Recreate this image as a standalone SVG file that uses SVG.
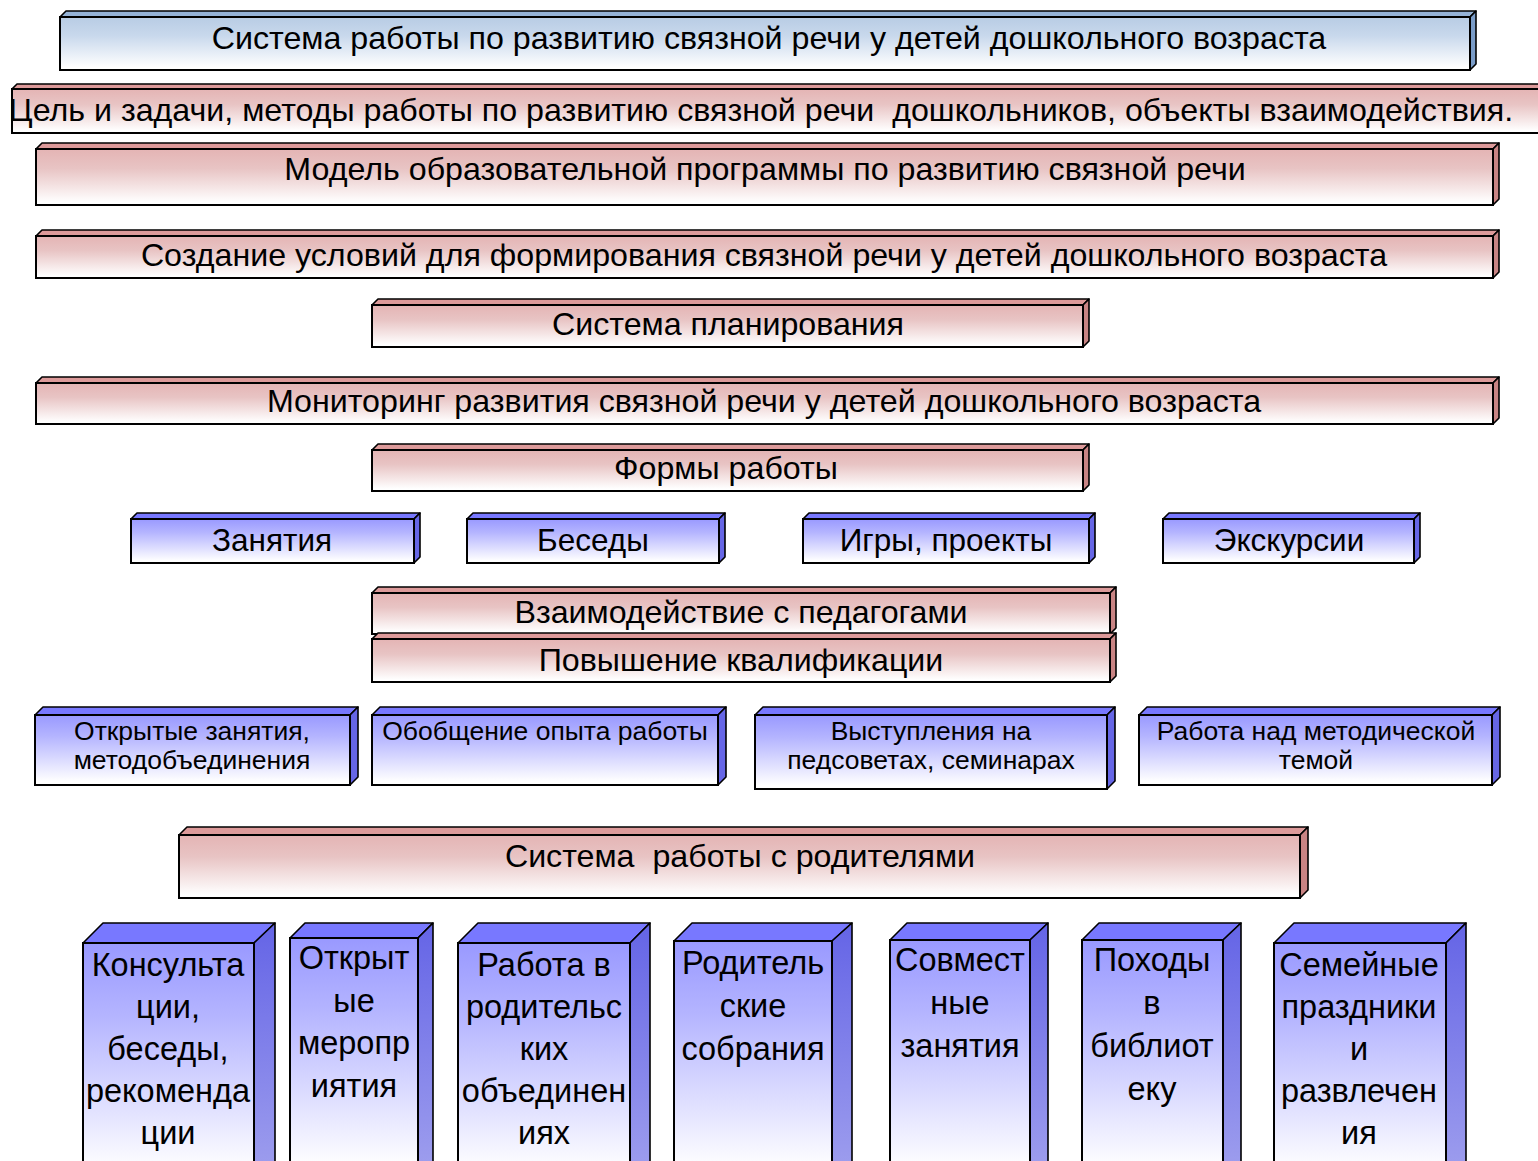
<svg xmlns="http://www.w3.org/2000/svg" width="1538" height="1161" viewBox="0 0 1538 1161">
<defs>
<linearGradient id="gP" x1="0" y1="0" x2="0" y2="1"><stop offset="0" stop-color="#e4b4b4"/><stop offset="0.35" stop-color="#e8c4c4"/><stop offset="0.95" stop-color="#ffffff"/></linearGradient>
<linearGradient id="gB" x1="0" y1="0" x2="0" y2="1"><stop offset="0" stop-color="#9999ff"/><stop offset="0.3" stop-color="#b4b4ff"/><stop offset="0.95" stop-color="#ffffff"/></linearGradient>
<linearGradient id="gL" x1="0" y1="0" x2="0" y2="1"><stop offset="0" stop-color="#b8cce4"/><stop offset="0.35" stop-color="#c8d8ec"/><stop offset="0.95" stop-color="#ffffff"/></linearGradient>
<linearGradient id="gBS" x1="0" y1="0" x2="0" y2="1"><stop offset="0" stop-color="#6464e6"/><stop offset="1" stop-color="#a0a0ee"/></linearGradient>
</defs>
<style>
.f{stroke:#000;stroke-width:2}
.s{stroke:#000;stroke-width:1.6;stroke-linejoin:round}
.p .f{fill:url(#gP)} .p .t{fill:#dd9a9a} .p .r{fill:#c98484}
.b .f{fill:url(#gB)} .b .t{fill:#7878ff} .b .r{fill:#6666e6}
.bt .f{fill:url(#gB)} .bt .t{fill:#7878ff} .bt .r{fill:url(#gBS)}
.l .f{fill:url(#gL)} .l .t{fill:#95b3d7} .l .r{fill:#7a9cc8}
text{font-family:"Liberation Sans",Arial,sans-serif;fill:#000;text-anchor:middle}
.x30{font-size:32.2px}
.x31s{font-size:31.5px}
.x25{font-size:26.5px}
.x31{font-size:32.5px}
</style>
<g id="connectors"></g>

<g id="n1" class="l">
<polygon class="t s" points="60,17 66,11 1476,11 1470,17"/><polygon class="r s" points="1470,17 1476,11 1476,64 1470,70"/><rect class="f" x="60" y="17" width="1410" height="53"/>
<text class="x30" x="769" y="49">Система работы по развитию связной речи у детей дошкольного возраста</text></g>

<g id="n2" class="p">
<polygon class="t s" points="12,89 17,84 1547,84 1542,89"/><rect class="f" x="12" y="89" width="1530" height="44"/>
<text class="x30" x="761" y="121" xml:space="preserve">Цель и задачи, методы работы по развитию связной речи  дошкольников, объекты взаимодействия.</text></g>

<g id="n3" class="p">
<polygon class="t s" points="36,149 42,143 1499,143 1493,149"/><polygon class="r s" points="1493,149 1499,143 1499,199 1493,205"/><rect class="f" x="36" y="149" width="1457" height="56"/>
<text class="x30" x="765" y="180">Модель образовательной программы по развитию связной речи</text></g>

<g id="n4" class="p">
<polygon class="t s" points="36,236 42,230 1499,230 1493,236"/><polygon class="r s" points="1493,236 1499,230 1499,272 1493,278"/><rect class="f" x="36" y="236" width="1457" height="42"/>
<text class="x30" x="764" y="266">Создание условий для формирования связной речи у детей дошкольного возраста</text></g>

<g id="n5" class="p">
<polygon class="t s" points="372,305 378,299 1089,299 1083,305"/><polygon class="r s" points="1083,305 1089,299 1089,341 1083,347"/><rect class="f" x="372" y="305" width="711" height="42"/>
<text class="x30" x="728" y="335">Система планирования</text></g>

<g id="n6" class="p">
<polygon class="t s" points="36,383 42,377 1499,377 1493,383"/><polygon class="r s" points="1493,383 1499,377 1499,418 1493,424"/><rect class="f" x="36" y="383" width="1457" height="41"/>
<text class="x30" x="764" y="412">Мониторинг развития связной речи у детей дошкольного возраста</text></g>

<g id="n7" class="p">
<polygon class="t s" points="372,450 378,444 1089,444 1083,450"/><polygon class="r s" points="1083,450 1089,444 1089,485 1083,491"/><rect class="f" x="372" y="450" width="711" height="41"/>
<text class="x30" x="726" y="479">Формы работы</text></g>

<g id="n8" class="b">
<polygon class="t s" points="131,519 137,513 420,513 414,519"/><polygon class="r s" points="414,519 420,513 420,557 414,563"/><rect class="f" x="131" y="519" width="283" height="44"/>
<text class="x31s" x="272" y="551">Занятия</text></g>

<g id="n9" class="b">
<polygon class="t s" points="467,519 473,513 725,513 719,519"/><polygon class="r s" points="719,519 725,513 725,557 719,563"/><rect class="f" x="467" y="519" width="252" height="44"/>
<text class="x31s" x="593" y="551">Беседы</text></g>

<g id="n10" class="b">
<polygon class="t s" points="803,519 809,513 1095,513 1089,519"/><polygon class="r s" points="1089,519 1095,513 1095,557 1089,563"/><rect class="f" x="803" y="519" width="286" height="44"/>
<text class="x31s" x="946" y="551">Игры, проекты</text></g>

<g id="n11" class="b">
<polygon class="t s" points="1163,519 1169,513 1420,513 1414,519"/><polygon class="r s" points="1414,519 1420,513 1420,557 1414,563"/><rect class="f" x="1163" y="519" width="251" height="44"/>
<text class="x31s" x="1289" y="551">Экскурсии</text></g>

<g id="n12" class="p">
<polygon class="t s" points="372,593 378,587 1116,587 1110,593"/><polygon class="r s" points="1110,593 1116,587 1116,628 1110,634"/><rect class="f" x="372" y="593" width="738" height="41"/>
<text class="x30" x="741" y="623">Взаимодействие с педагогами</text></g>

<g id="n13" class="p">
<polygon class="t s" points="372,639 378,633 1116,633 1110,639"/><polygon class="r s" points="1110,639 1116,633 1116,676 1110,682"/><rect class="f" x="372" y="639" width="738" height="43"/>
<text class="x30" x="741" y="671">Повышение квалификации</text></g>

<g id="n14" class="b">
<polygon class="t s" points="35,715 43,707 358,707 350,715"/><polygon class="r s" points="350,715 358,707 358,777 350,785"/><rect class="f" x="35" y="715" width="315" height="70"/>
<text class="x25" x="192" y="740">Открытые занятия,</text><text class="x25" x="192" y="769">методобъединения</text></g>

<g id="n15" class="b">
<polygon class="t s" points="372,715 380,707 726,707 718,715"/><polygon class="r s" points="718,715 726,707 726,777 718,785"/><rect class="f" x="372" y="715" width="346" height="70"/>
<text class="x25" x="545" y="740">Обобщение опыта работы</text></g>

<g id="n16" class="b">
<polygon class="t s" points="755,715 763,707 1115,707 1107,715"/><polygon class="r s" points="1107,715 1115,707 1115,781 1107,789"/><rect class="f" x="755" y="715" width="352" height="74"/>
<text class="x25" x="931" y="740">Выступления на</text><text class="x25" x="931" y="769">педсоветах, семинарах</text></g>

<g id="n17" class="b">
<polygon class="t s" points="1139,715 1147,707 1500,707 1492,715"/><polygon class="r s" points="1492,715 1500,707 1500,777 1492,785"/><rect class="f" x="1139" y="715" width="353" height="70"/>
<text class="x25" x="1316" y="740">Работа над методической</text><text class="x25" x="1316" y="769">темой</text></g>

<g id="n18" class="p">
<polygon class="t s" points="179,835 187,827 1308,827 1300,835"/><polygon class="r s" points="1300,835 1308,827 1308,890 1300,898"/><rect class="f" x="179" y="835" width="1121" height="63"/>
<text class="x30" x="740" y="867" xml:space="preserve">Система  работы с родителями</text></g>

<g id="n19" class="bt">
<polygon class="t s" points="83,943 103,923 275,923 254,943"/><polygon class="r s" points="254,943 275,923 275,1163 254,1183"/><rect class="f" x="83" y="943" width="171" height="240"/>
<text class="x31" x="168" y="976">Консульта</text><text class="x31" x="168" y="1018">ции,</text><text class="x31" x="168" y="1060">беседы,</text><text class="x31" x="168" y="1102">рекоменда</text><text class="x31" x="168" y="1144">ции</text></g>

<g id="n20" class="bt">
<polygon class="t s" points="290,938 305,923 433,923 418,938"/><polygon class="r s" points="418,938 433,923 433,1163 418,1178"/><rect class="f" x="290" y="938" width="128" height="240"/>
<text class="x31" x="354" y="969">Открыт</text><text class="x31" x="354" y="1012">ые</text><text class="x31" x="354" y="1054">меропр</text><text class="x31" x="354" y="1097">иятия</text></g>

<g id="n21" class="bt">
<polygon class="t s" points="458,943 478,923 650,923 630,943"/><polygon class="r s" points="630,943 650,923 650,1163 630,1183"/><rect class="f" x="458" y="943" width="172" height="240"/>
<text class="x31" x="544" y="976">Работа в</text><text class="x31" x="544" y="1018">родительс</text><text class="x31" x="544" y="1060">ких</text><text class="x31" x="544" y="1102">объединен</text><text class="x31" x="544" y="1144">иях</text></g>

<g id="n22" class="bt">
<polygon class="t s" points="674,941 692,923 852,923 832,941"/><polygon class="r s" points="832,941 852,923 852,1163 832,1181"/><rect class="f" x="674" y="941" width="158" height="240"/>
<text class="x31" x="753" y="974">Родитель</text><text class="x31" x="753" y="1017">ские</text><text class="x31" x="753" y="1060">собрания</text></g>

<g id="n23" class="bt">
<polygon class="t s" points="890,940 907,923 1048,923 1030,940"/><polygon class="r s" points="1030,940 1048,923 1048,1163 1030,1180"/><rect class="f" x="890" y="940" width="140" height="240"/>
<text class="x31" x="960" y="971">Совмест</text><text class="x31" x="960" y="1014">ные</text><text class="x31" x="960" y="1057">занятия</text></g>

<g id="n24" class="bt">
<polygon class="t s" points="1082,940 1099,923 1241,923 1223,940"/><polygon class="r s" points="1223,940 1241,923 1241,1163 1223,1180"/><rect class="f" x="1082" y="940" width="141" height="240"/>
<text class="x31" x="1152" y="971">Походы</text><text class="x31" x="1152" y="1014">в</text><text class="x31" x="1152" y="1057">библиот</text><text class="x31" x="1152" y="1100">еку</text></g>

<g id="n25" class="bt">
<polygon class="t s" points="1274,943 1294,923 1466,923 1446,943"/><polygon class="r s" points="1446,943 1466,923 1466,1163 1446,1183"/><rect class="f" x="1274" y="943" width="172" height="240"/>
<text class="x31" x="1359" y="976">Семейные</text><text class="x31" x="1359" y="1018">праздники</text><text class="x31" x="1359" y="1060">и</text><text class="x31" x="1359" y="1102">развлечен</text><text class="x31" x="1359" y="1144">ия</text></g>
</svg>
